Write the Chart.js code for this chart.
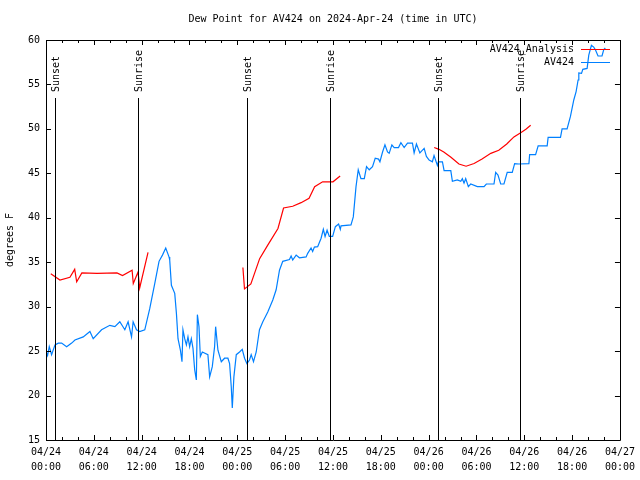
<!DOCTYPE html>
<html>
<head>
<meta charset="utf-8">
<script src="https://cdn.jsdelivr.net/npm/chart.js@4.4.1/dist/chart.umd.min.js"></script>
<style>
  html, body { margin: 0; padding: 0; background: #fff; }
  #wrap { width: 640px; height: 480px; }
</style>
</head>
<body>
<div id="wrap"><canvas id="chart" width="640" height="480"></canvas></div>
<script>
// hours since 04/24 00:00 UTC
const analysisHours = [
  0.6, 1.75, 3.0, 3.6, 3.85, 4.5, 6.4, 8.9, 9.6, 10.8, 10.95, 11.55, 11.75, 12.8, 13.0,
  24.7, 24.9, 25.7, 26.8, 27.8, 29.1, 29.8, 30.95, 32.0, 33.0, 33.7, 34.7, 36.0, 36.9, 37.0,
  48.7, 49.3, 49.9, 50.8, 51.8, 52.7, 53.7, 54.7, 55.8, 56.8, 57.8, 58.7, 59.6, 60.2, 60.8
];
const analysisDew = [
  33.7, 33.0, 33.3, 34.2, 32.8, 33.8, 33.75, 33.8, 33.5, 34.1, 32.6, 33.9, 32.1, 36.1, null,
  34.4, 32.0, 32.55, 35.4, 36.9, 38.8, 41.1, 41.3, 41.7, 42.2, 43.5, 44.05, 44.05, 44.7, null,
  47.9, 47.7, 47.4, 46.8, 46.05, 45.8, 46.1, 46.6, 47.25, 47.6, 48.3, 49.1, 49.6, 49.95, 50.4
];

const obsHours = [
  0.0, 0.2, 0.41, 0.7, 1.13, 1.54, 1.96, 2.59, 3.22, 3.63, 4.67, 5.51, 5.92, 6.97, 8.01, 8.64,
  9.26, 9.89, 10.30, 10.73, 10.93, 11.35, 11.76, 12.39, 13.02, 13.64, 14.18, 14.61, 15.02, 15.43,
  15.52, 15.73, 16.15, 16.36, 16.56, 16.86, 17.06, 17.18, 17.40, 17.61, 17.81, 18.02, 18.23, 18.44,
  18.65, 18.86, 18.99, 19.19, 19.36, 19.61, 20.31, 20.53, 20.86, 21.15, 21.28, 21.57, 21.99, 22.40,
  22.82, 23.03, 23.24, 23.37, 23.57, 23.87, 24.28, 24.62, 24.91, 25.20, 25.53, 25.74, 26.03, 26.37,
  26.78, 27.20, 27.82, 28.45, 28.87, 29.29, 29.70, 30.54, 30.75, 30.95, 31.38, 31.79, 32.63, 32.83,
  33.25, 33.45, 33.67, 34.08, 34.51, 34.79, 35.01, 35.26, 35.54, 35.96, 36.30, 36.71, 36.92, 37.01,
  38.26, 38.55, 38.89, 39.17, 39.51, 39.93, 40.21, 40.55, 40.96, 41.30, 41.72, 41.89, 42.22, 42.52,
  42.84, 43.05, 43.39, 43.68, 44.22, 44.52, 44.93, 45.35, 45.97, 46.18, 46.47, 46.90, 47.44, 47.72,
  48.06, 48.47, 48.68, 49.10, 49.22, 49.73, 49.94, 50.78, 50.98, 51.60, 52.03, 52.23, 52.44, 52.65,
  52.98, 53.28, 54.11, 54.95, 55.24, 56.20, 56.41, 56.70, 57.04, 57.45, 57.86, 58.49, 58.79, 59.33,
  60.58, 60.67, 61.42, 61.74, 62.87, 62.99, 64.54, 64.74, 65.37, 65.79, 66.21, 66.50, 66.75, 66.84,
  67.18, 67.34, 67.88, 68.09, 68.42, 68.71, 68.92, 69.25, 69.75, 69.96, 70.16
];
const obsDew = [
  25.0, 24.5, 25.5, 24.6, 25.7, 25.9, 25.9, 25.5, 25.9, 26.25, 26.6, 27.2, 26.4, 27.4, 27.9, 27.75,
  28.3, 27.4, 28.3, 26.6, 28.3, 27.4, 27.2, 27.4, 29.8, 32.6, 35.1, 35.8, 36.6, 35.6,
  35.25, 32.4, 31.5, 29.25, 26.4, 25.1, 23.8, 27.4, 26.4, 25.7, 26.6, 25.5, 26.4, 25.3,
  22.9, 21.75, 29.1, 27.75, 24.4, 24.9, 24.6, 22.1, 23.25, 25.5, 27.75, 25.1, 23.8, 24.2,
  24.2, 23.6, 21.0, 18.6, 22.1, 24.6, 24.9, 25.2, 24.2, 23.6, 24.0, 24.6, 23.8, 24.9,
  27.4, 28.3, 29.4, 30.75, 31.9, 34.1, 35.1, 35.3, 35.7, 35.25, 35.8, 35.5, 35.6, 36.0,
  36.6, 36.2, 36.7, 36.75, 37.7, 38.7, 37.9, 38.6, 37.9, 37.9, 39.0, 39.3, 38.7, 39.1,
  39.2, 40.1, 43.5, 45.4, 44.4, 44.4, 45.75, 45.4, 45.75, 46.7, 46.6, 46.3, 47.4, 48.2,
  47.4, 47.25, 48.2, 47.9, 47.9, 48.45, 47.9, 48.4, 48.4, 47.3, 48.3, 47.3, 47.8, 46.9,
  46.5, 46.3, 47.0, 45.9, 46.3, 46.3, 45.3, 45.3, 44.1, 44.25, 44.1, 44.4, 43.9, 44.4,
  43.5, 43.8, 43.5, 43.5, 43.8, 43.8, 45.1, 44.8, 43.8, 43.8, 45.1, 45.1, 46.1, 46.05,
  46.1, 47.1, 47.1, 48.1, 48.1, 49.05, 49.05, 50.0, 50.0, 51.4, 53.25, 54.2, 55.5, 56.3,
  56.25, 56.7, 56.8, 58.3, 59.4, 59.2, 58.9, 58.2, 58.2, 58.9, 59.1
];

const sunHours = [1.13, 11.55, 25.19, 35.58, 49.22, 59.45];
const sunLabels = ['Sunset', 'Sunrise', 'Sunset', 'Sunrise', 'Sunset', 'Sunrise'];

const FONT = '"DejaVu Sans Mono", monospace';

function pairs(xs, ys) {
  return xs.map((x, i) => ({ x: x, y: ys[i] }));
}

function tickLabel(h) {
  const day = 24 + Math.floor(h / 24);
  const hh = h % 24;
  return ['04/' + day, (hh < 10 ? '0' : '') + hh + ':00'];
}

const decor = {
  id: 'decor',
  afterDatasetsDraw(chart) {
    const ctx = chart.ctx;
    const a = chart.chartArea;
    const xs = chart.scales.x;
    const ys = chart.scales.y;
    ctx.save();
    ctx.strokeStyle = '#000';
    ctx.lineWidth = 1;
    ctx.beginPath();
    // sun lines
    sunHours.forEach(h => {
      const px = Math.round(xs.getPixelForValue(h)) + 0.5;
      ctx.moveTo(px, a.top + 58);
      ctx.lineTo(px, a.bottom);
    });
    // frame
    ctx.rect(Math.round(a.left) + 0.5, Math.round(a.top) + 0.5,
      Math.round(a.right - a.left), Math.round(a.bottom - a.top));
    // x ticks every 2h
    for (let h = 0; h <= 72; h += 2) {
      const px = Math.round(xs.getPixelForValue(h)) + 0.5;
      const len = h % 6 === 0 ? 5 : 3;
      ctx.moveTo(px, a.bottom); ctx.lineTo(px, a.bottom - len);
      ctx.moveTo(px, a.top); ctx.lineTo(px, a.top + len);
    }
    // y ticks
    for (let v = 15; v <= 60; v += 5) {
      const py = Math.round(ys.getPixelForValue(v)) + 0.5;
      ctx.moveTo(a.left, py); ctx.lineTo(a.left + 5, py);
      ctx.moveTo(a.right, py); ctx.lineTo(a.right - 5, py);
    }
    ctx.stroke();

    ctx.fillStyle = '#000';
    ctx.font = '10px ' + FONT;
    // sun labels, reading upward from just above each line
    sunHours.forEach((h, i) => {
      const px = Math.round(xs.getPixelForValue(h));
      ctx.save();
      ctx.translate(px + 1, a.top + 52);
      ctx.rotate(-Math.PI / 2);
      ctx.textAlign = 'left';
      ctx.textBaseline = 'middle';
      ctx.fillText(sunLabels[i], 0, 0);
      ctx.restore();
    });

    // title
    ctx.textAlign = 'center';
    ctx.textBaseline = 'middle';
    ctx.fillText('Dew Point for AV424 on 2024-Apr-24 (time in UTC)', (a.left + a.right) / 2, 19);

    // y axis title
    ctx.save();
    ctx.translate(10, (a.top + a.bottom) / 2);
    ctx.rotate(-Math.PI / 2);
    ctx.fillText('degrees F', 0, 0);
    ctx.restore();

    // key
    const keys = [['AV424_Analysis', '#ff0000', 49], ['AV424', '#0080ff', 62]];
    keys.forEach(k => {
      ctx.textAlign = 'right';
      ctx.fillStyle = '#000';
      ctx.fillText(k[0], 574, k[2]);
      ctx.strokeStyle = k[1];
      ctx.beginPath();
      ctx.moveTo(581, k[2] + 0.5);
      ctx.lineTo(610, k[2] + 0.5);
      ctx.stroke();
    });
    ctx.restore();
  }
};

new Chart(document.getElementById('chart'), {
  type: 'line',
  data: {
    datasets: [
      {
        label: 'AV424_Analysis',
        data: pairs(analysisHours, analysisDew),
        borderColor: '#ff0000',
        borderWidth: 1.2,
        pointRadius: 0,
        tension: 0,
        spanGaps: false
      },
      {
        label: 'AV424',
        data: pairs(obsHours, obsDew),
        borderColor: '#0080ff',
        borderWidth: 1.2,
        pointRadius: 0,
        tension: 0
      }
    ]
  },
  options: {
    responsive: false,
    animation: false,
    layout: { padding: { top: 40, right: 19, left: 0, bottom: 0 } },
    plugins: { legend: { display: false }, tooltip: { enabled: false } },
    scales: {
      x: {
        type: 'linear',
        min: 0,
        max: 72,
        grid: { display: false, drawTicks: false },
        border: { display: false },
        afterFit: s => { s.height = 40; },
        ticks: {
          stepSize: 6,
          autoSkip: false,
          maxRotation: 0,
          padding: 5,
          color: '#000',
          font: { family: FONT, size: 10, lineHeight: 1.5 },
          callback: v => tickLabel(v)
        }
      },
      y: {
        min: 15,
        max: 60,
        grid: { display: false, drawTicks: false },
        border: { display: false },
        afterFit: s => { s.width = 46; },
        ticks: {
          stepSize: 5,
          padding: 6,
          color: '#000',
          font: { family: FONT, size: 10 }
        }
      }
    }
  },
  plugins: [decor]
});
</script>
</body>
</html>
